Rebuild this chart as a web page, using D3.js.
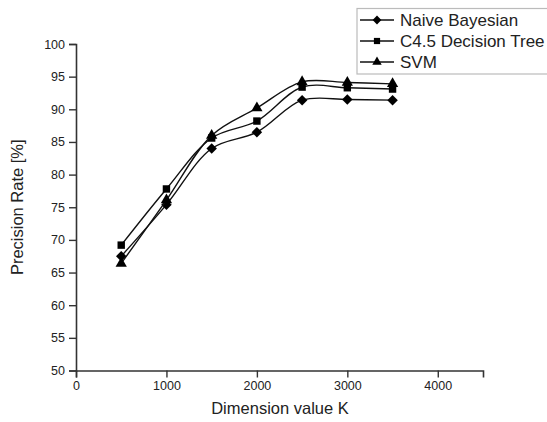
<!DOCTYPE html>
<html>
<head>
<meta charset="utf-8">
<script src="https://cdn.jsdelivr.net/npm/d3@7"></script>
<style>
  html, body { margin: 0; padding: 0; background: #fff; }
  svg { display: block; }
  text { font-family: Arial, "Liberation Sans", sans-serif; fill: #222; }
</style>
</head>
<body>
<svg id="chart" width="547" height="422"></svg>
<script>
const dimensions = [500, 1000, 1500, 2000, 2500, 3000, 3500];
const naiveBayesian = [67.5, 75.4, 84.0, 86.5, 91.4, 91.5, 91.4];
const c45Tree = [69.2, 77.8, 85.6, 88.2, 93.4, 93.3, 93.1];
const svmValues = [66.4, 76.1, 86.0, 90.2, 94.2, 94.1, 93.9];
const seriesNames = ["Naive Bayesian", "C4.5 Decision Tree", "SVM"];
const seriesSymbols = ["diamond", "square", "triangle"];
const xTickValues = [0, 1000, 2000, 3000, 4000];
const yTickValues = [50, 55, 60, 65, 70, 75, 80, 85, 90, 95, 100];
const xTitle = "Dimension value K";
const yTitle = "Precision Rate [%]";

const svg = d3.select("#chart");
const x = d3.scaleLinear().domain([0, 4500]).range([76, 483]);
const y = d3.scaleLinear().domain([50, 100]).range([370.5, 44]);
const axisColor = "#333";

// X axis
const xAxis = svg.append("g").attr("transform", `translate(0,${y(50)})`);
xAxis.call(d3.axisBottom(x).tickValues(d3.range(0, 4501, 500)).tickSize(4).tickFormat(""));
xAxis.call(d3.axisBottom(x).tickValues(xTickValues).tickSize(7).tickPadding(4).tickFormat(d3.format("d")));
xAxis.selectAll("path.domain").attr("stroke", axisColor).attr("stroke-width", 1.6);
xAxis.selectAll("line").attr("stroke", axisColor).attr("stroke-width", 1.4);
xAxis.selectAll("text").style("font-size", "12.5px").attr("fill", "#222");

// Y axis
const yAxis = svg.append("g").attr("transform", `translate(${x(0)},0)`);
yAxis.call(d3.axisLeft(y).tickValues(d3.range(50, 100.1, 2.5)).tickSize(4).tickFormat(""));
yAxis.call(d3.axisLeft(y).tickValues(yTickValues).tickSize(7).tickPadding(4).tickFormat(d3.format("d")));
yAxis.selectAll("path.domain").attr("stroke", axisColor).attr("stroke-width", 1.6);
yAxis.selectAll("line").attr("stroke", axisColor).attr("stroke-width", 1.4);
yAxis.selectAll("text").style("font-size", "12.5px").attr("fill", "#222");

// Titles
svg.append("text").attr("x", 280).attr("y", 414).attr("text-anchor", "middle")
  .style("font-size", "16.5px").text(xTitle);
svg.append("text").attr("transform", `translate(23,${(y(50)+y(100))/2}) rotate(-90)`)
  .attr("text-anchor", "middle").style("font-size", "16.5px").text(yTitle);

// Series
const allSeries = [naiveBayesian, c45Tree, svmValues];
const symbolMap = { diamond: d3.symbolDiamond2, square: d3.symbolSquare, triangle: d3.symbolTriangle };
const symbolSize = { diamond: 70, square: 55, triangle: 55 };
const line = d3.line().x(d => x(d[0])).y(d => y(d[1])).curve(d3.curveCatmullRom.alpha(0.5));

allSeries.forEach((vals, i) => {
  const pts = dimensions.map((d, j) => [d, vals[j]]);
  svg.append("path").datum(pts).attr("d", line)
    .attr("fill", "none").attr("stroke", "#111").attr("stroke-width", 1.4);
  const sym = d3.symbol().type(symbolMap[seriesSymbols[i]]).size(symbolSize[seriesSymbols[i]]);
  svg.append("g").selectAll("path").data(pts).join("path")
    .attr("d", sym)
    .attr("transform", d => `translate(${x(d[0])},${y(d[1])})`)
    .attr("fill", "#000");
});

// Legend
const legend = svg.append("g");
legend.append("rect").attr("x", 357).attr("y", 8.5).attr("width", 200).attr("height", 65.5)
  .attr("fill", "#fff").attr("stroke", "#bbb").attr("stroke-width", 1.2);
seriesNames.forEach((name, i) => {
  const ly = 20 + i * 21;
  legend.append("line").attr("x1", 360).attr("x2", 394).attr("y1", ly).attr("y2", ly)
    .attr("stroke", "#111").attr("stroke-width", 1.4);
  legend.append("path")
    .attr("d", d3.symbol().type(symbolMap[seriesSymbols[i]]).size(symbolSize[seriesSymbols[i]] * 0.7)())
    .attr("transform", `translate(377,${ly})`).attr("fill", "#000");
  legend.append("text").attr("x", 400).attr("y", ly + 6).style("font-size", "17px").text(name);
});
</script>
</body>
</html>
